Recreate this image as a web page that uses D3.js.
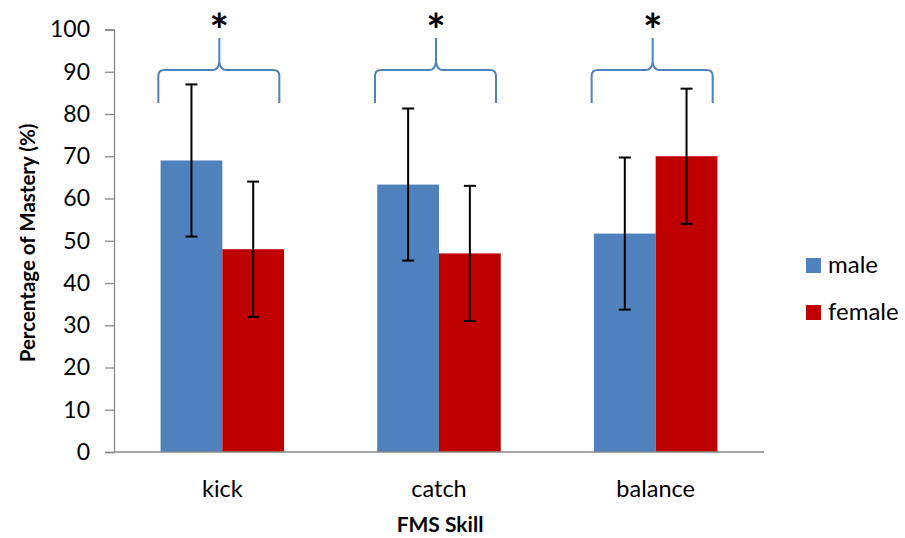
<!DOCTYPE html>
<html><head><meta charset="utf-8">
<script src="https://cdn.jsdelivr.net/npm/d3@7"></script>
<style>body{margin:0;background:#fff}svg{display:block}text{font-family:Lato,"Open Sans",sans-serif;fill:#000}</style>
</head><body><svg id="c" width="905" height="538"></svg>
<script>
const categories = ["kick", "catch", "balance"];
const seriesNames = ["male", "female"];
const maleValues = [69, 63.3, 51.7];
const femaleValues = [48, 47, 70];
const maleErr = [18, 18, 18];
const femaleErr = [16, 16, 16];
const yTicks = [0, 10, 20, 30, 40, 50, 60, 70, 80, 90, 100];
const significant = [true, true, true];
const colors = ["#4F81BD", "#C00000"];

const svg = d3.select("#c");
const x0 = 114, x1 = 764, yTop = 29.5, yBot = 452;
const x = d3.scaleBand().domain(categories).range([x0, x1]).padding(0);
const y = d3.scaleLinear().domain([0, 100]).range([yBot, yTop]);
const bw = x.bandwidth() * 0.285;

// y axis
const yAxis = d3.axisLeft(y).tickValues(yTicks).tickSize(9).tickPadding(15);
const ga = svg.append("g").attr("transform", `translate(${x0},0)`).call(yAxis);
ga.select(".domain").attr("stroke", "#888").attr("stroke-width", 1.3);
ga.selectAll(".tick line").attr("stroke", "#888").attr("stroke-width", 1.3);
ga.selectAll(".tick text").attr("font-size", 23).attr("font-family", "Lato, 'Open Sans', sans-serif").attr("fill", "#000");

const data = categories.map((c, i) => ({c, vals: [maleValues[i], femaleValues[i]], errs: [maleErr[i], femaleErr[i]]}));

// bars
const g = svg.append("g");
data.forEach(d => {
  const cx = x(d.c) + x.bandwidth() / 2;
  d.vals.forEach((v, j) => {
    g.append("rect").attr("x", cx - bw + j * bw).attr("width", bw)
      .attr("y", y(v)).attr("height", y(0) - y(v)).attr("fill", colors[j]);
  });
});
// x axis line
svg.append("line").attr("x1", x0).attr("x2", x1).attr("y1", yBot).attr("y2", yBot)
  .attr("stroke", "#888").attr("stroke-width", 1.5);

// error bars
data.forEach(d => {
  const cx = x(d.c) + x.bandwidth() / 2;
  d.vals.forEach((v, j) => {
    const ex = cx - bw / 2 + j * bw;
    const lo = y(v - d.errs[j]), hi = y(v + d.errs[j]);
    g.append("line").attr("x1", ex).attr("x2", ex).attr("y1", lo).attr("y2", hi).attr("stroke", "#000").attr("stroke-width", 2);
    [lo, hi].forEach(yy => g.append("line").attr("x1", ex - 6).attr("x2", ex + 6).attr("y1", yy).attr("y2", yy).attr("stroke", "#000").attr("stroke-width", 2));
  });
});

// braces + asterisks
data.forEach((d, i) => {
  if (!significant[i]) return;
  const cx = x(d.c) + x.bandwidth() / 2 - 3;
  const l = cx - 61, r = cx + 60;
  const yh = y(90.4), ye = y(82.6), ys = y(98);
  const p = d3.path();
  p.moveTo(l, ye); p.lineTo(l, yh + 6); p.quadraticCurveTo(l, yh, l + 6, yh);
  p.lineTo(cx - 7, yh); p.quadraticCurveTo(cx - 1, yh, cx, yh - 8); p.lineTo(cx, ys);
  p.moveTo(r, ye); p.lineTo(r, yh + 6); p.quadraticCurveTo(r, yh, r - 6, yh);
  p.lineTo(cx + 7, yh); p.quadraticCurveTo(cx + 1, yh, cx, yh - 8);
  svg.append("path").attr("d", p.toString()).attr("fill", "none").attr("stroke", "#4F81BD").attr("stroke-width", 2);
  svg.append("text").attr("x", cx).attr("y", 47).attr("text-anchor", "middle")
    .attr("font-size", 46).attr("font-weight", "bold").attr("font-family", "'DejaVu Sans', sans-serif").text("*");
});

// category labels
categories.forEach(c => {
  svg.append("text").attr("x", x(c) + x.bandwidth() / 2).attr("y", 497).attr("text-anchor", "middle")
    .attr("font-size", 23.5).text(c);
});
// axis titles
svg.append("text").attr("x", 440).attr("y", 532).attr("text-anchor", "middle")
  .attr("font-size", 21).attr("font-weight", "bold").text("FMS Skill");
svg.append("text").attr("transform", "translate(35,243) rotate(-90)").attr("text-anchor", "middle")
  .attr("font-size", 20.5).attr("font-weight", "bold").text("Percentage of Mastery (%)");

// legend
seriesNames.forEach((s, i) => {
  const ly = 258 + i * 47;
  svg.append("rect").attr("x", 806).attr("y", ly).attr("width", 15).attr("height", 15).attr("fill", colors[i]);
  svg.append("text").attr("x", 828).attr("y", ly + 15).attr("font-size", 24).text(s);
});
</script></body></html>
